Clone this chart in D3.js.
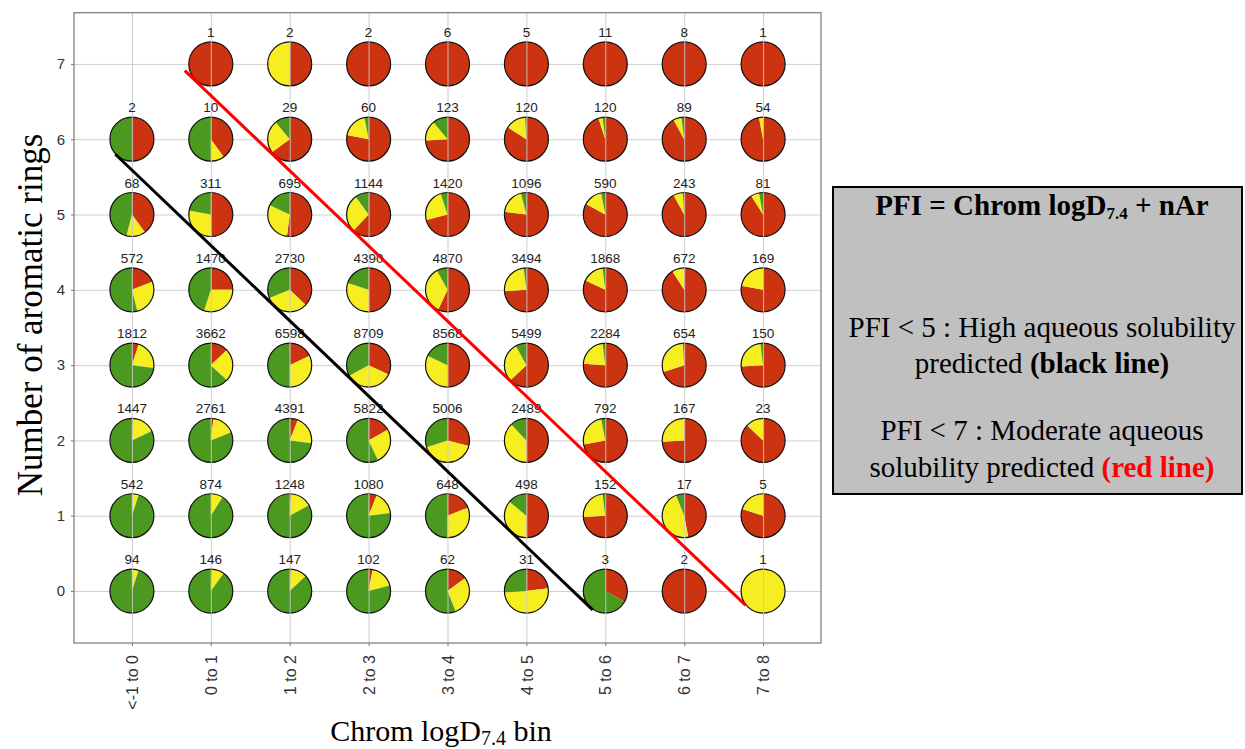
<!DOCTYPE html>
<html>
<head>
<meta charset="utf-8">
<script src="https://cdn.jsdelivr.net/npm/d3@7"></script>
<style>
  body { margin: 0; background: #fff; }
</style>
</head>
<body>
<div id="canvas"></div>
<script>
// Categorias del eje x (bins de Chrom logD7.4)
const bins = ["<-1 to 0", "0 to 1", "1 to 2", "2 to 3", "3 to 4", "4 to 5", "5 to 6", "6 to 7", "7 to 8"];

// Numero de anillos aromaticos (eje y)
const rings = [0, 1, 2, 3, 4, 5, 6, 7];

// Conteos por celda, una fila por numero de anillos (0 .. 7)
const counts = [
    [94, 146, 147, 102, 62, 31, 3, 2, 1],
    [542, 874, 1248, 1080, 648, 498, 152, 17, 5],
    [1447, 2761, 4391, 5822, 5006, 2489, 792, 167, 23],
    [1812, 3662, 6598, 8709, 8568, 5499, 2284, 654, 150],
    [572, 1470, 2730, 4390, 4870, 3494, 1868, 672, 169],
    [68, 311, 695, 1144, 1420, 1096, 590, 243, 81],
    [2, 10, 29, 60, 123, 120, 120, 89, 54],
    [null, 1, 2, 2, 6, 5, 11, 8, 1]
];

// Porcentaje rojo (baja solubilidad) por celda
const redPct = [
    [0, 1, 1, 3, 15, 23, 33, 100, 0],
    [0, 0, 1, 6, 19, 50, 74, 47, 80],
    [1, 2, 6, 17, 29, 50, 72, 74, 87],
    [5, 13, 18, 32, 50, 63, 76, 70, 74],
    [19, 25, 37, 50, 57, 74, 82, 91, 78],
    [40, 50, 52, 62, 71, 77, 83, 92, 91],
    [50, 40, 65, 78, 74, 84, 95, 92, 97],
    [null, 100, 50, 100, 100, 100, 100, 100, 100]
];

// Porcentaje amarillo (solubilidad intermedia) por celda
const yellowPct = [
    [5, 9, 12, 18, 29, 51, 0, 0, 100],
    [5, 9, 16, 17, 31, 36, 24, 47, 20],
    [17, 17, 21, 26, 41, 38, 25, 26, 13],
    [22, 24, 32, 35, 32, 29, 22, 29, 24],
    [27, 30, 32, 30, 35, 24, 16, 9, 22],
    [14, 28, 30, 28, 24, 19, 14, 7, 6],
    [0, 10, 24, 19, 15, 15, 3, 6, 3],
    [null, 0, 50, 0, 0, 0, 0, 0, 0]
];

// Porcentaje verde (alta solubilidad) por celda
const greenPct = [
    [95, 90, 87, 79, 56, 26, 67, 0, 0],
    [95, 91, 83, 77, 50, 14, 2, 6, 0],
    [82, 81, 73, 57, 30, 12, 3, 0, 0],
    [73, 63, 50, 33, 18, 8, 2, 1, 2],
    [54, 45, 31, 20, 8, 2, 2, 0, 0],
    [46, 22, 18, 10, 5, 4, 3, 1, 3],
    [50, 50, 11, 3, 11, 1, 2, 2, 0],
    [null, 0, 0, 0, 0, 0, 0, 0, 0]
];

// Lineas PFI (extremos en unidades de logD y nAr)
const blackLine = [[-0.71, 5.8], [5.34, -0.25]];
const redLine = [[0.17, 6.91], [7.28, -0.19]];

const pieColors = ["#cc3311", "#f7ee21", "#4b9a1f"];

// Caracteristicas del canvas
const width = 1245;
const height = 749;
const frame = {left: 74, right: 821, top: 12.7, bottom: 643};

const svg = d3.select("#canvas").append("svg")
    .attr("width", width)
    .attr("height", height);

// Escalas
const x = d3.scalePoint()
    .domain(bins)
    .range([frame.left, frame.right])
    .padding(0.734);

// Escala continua de logD para las lineas (centro del bin = limite inferior + 0.5)
const xLog = d3.scaleLinear()
    .domain([-1.234, 8.234])
    .range([frame.left, frame.right]);

const y = d3.scaleLinear()
    .domain([-0.69, 7.68])
    .range([frame.bottom, frame.top]);

// Celdas con datos
const cells = [];
rings.forEach((r, i) => {
    bins.forEach((b, j) => {
        if (counts[i][j] == null) return;
        cells.push({
            bin: b, ring: r, n: counts[i][j],
            parts: [redPct[i][j], yellowPct[i][j], greenPct[i][j]]
        });
    });
});

// Rejilla horizontal (debajo de los pies)
svg.append("g")
    .attr("transform", `translate(${frame.left}, 0)`)
    .call(d3.axisLeft(y).tickValues(rings).tickSize(-(frame.right - frame.left)).tickFormat(""))
    .call(g => g.select(".domain").remove())
    .selectAll("line").attr("stroke", "#d0d0d0");

// Pies
const pie = d3.pie().sort(null).value(d => d);
const arc = d3.arc().innerRadius(0).outerRadius(22);

const pies = svg.append("g").selectAll("g").data(cells)
    .enter()
    .append("g")
    .attr("transform", d => `translate(${x(d.bin)}, ${y(d.ring)})`);

pies.selectAll("path").data(d => pie(d.parts))
    .enter()
    .append("path")
    .attr("d", arc)
    .attr("fill", (d, i) => pieColors[i]);

pies.append("circle")
    .attr("r", 22)
    .attr("fill", "none")
    .attr("stroke", "#111")
    .attr("stroke-width", 1.2);

// Rejilla vertical (encima de los pies)
svg.append("g")
    .attr("transform", `translate(0, ${frame.bottom})`)
    .call(d3.axisBottom(x).tickSize(-(frame.bottom - frame.top)).tickFormat(""))
    .call(g => g.select(".domain").remove())
    .selectAll("line").attr("stroke", "#c8c8c8").attr("stroke-opacity", 0.9);

// Marco
svg.append("rect")
    .attr("x", frame.left)
    .attr("y", frame.top)
    .attr("width", frame.right - frame.left)
    .attr("height", frame.bottom - frame.top)
    .attr("fill", "none")
    .attr("stroke", "#777")
    .attr("stroke-width", 1.2);

// Eje y
const yAxis = svg.append("g")
    .attr("transform", `translate(${frame.left}, 0)`)
    .call(d3.axisLeft(y).tickValues(rings).tickSize(3).tickPadding(6));
yAxis.select(".domain").remove();
yAxis.selectAll("line").attr("stroke", "#777");
yAxis.selectAll("text")
    .style("font-family", "'Liberation Sans', Arial, sans-serif")
    .style("font-size", "15px")
    .attr("fill", "#333");

// Eje x con etiquetas rotadas
const xAxis = svg.append("g")
    .attr("transform", `translate(0, ${frame.bottom})`)
    .call(d3.axisBottom(x).tickSize(3));
xAxis.select(".domain").remove();
xAxis.selectAll("line").attr("stroke", "#777");
xAxis.selectAll("text")
    .attr("transform", "rotate(-90)")
    .attr("x", -12)
    .attr("y", 0)
    .attr("dy", "0.35em")
    .style("text-anchor", "end")
    .style("font-family", "'Liberation Sans', Arial, sans-serif")
    .style("font-size", "16px")
    .attr("fill", "#333");

// Conteos encima de cada pie
svg.append("g").selectAll("text").data(cells)
    .enter()
    .append("text")
    .attr("x", d => x(d.bin))
    .attr("y", d => y(d.ring) - 27)
    .attr("text-anchor", "middle")
    .style("font-family", "'Liberation Sans', Arial, sans-serif")
    .style("font-size", "13.5px")
    .attr("fill", "#222")
    .text(d => d.n);

// Lineas PFI = 5 (negra) y PFI = 7 (roja)
const line = d3.line().x(d => xLog(d[0])).y(d => y(d[1]));
svg.append("path").datum(blackLine)
    .attr("d", line)
    .attr("stroke", "#000")
    .attr("stroke-width", 3)
    .attr("fill", "none");
svg.append("path").datum(redLine)
    .attr("d", line)
    .attr("stroke", "#ff0000")
    .attr("stroke-width", 3)
    .attr("fill", "none");

// Titulos de los ejes
const serif = "'Liberation Serif', 'Times New Roman', serif";

svg.append("text")
    .attr("transform", "translate(42, 315) rotate(-90)")
    .attr("text-anchor", "middle")
    .style("font-family", serif)
    .style("font-size", "35px")
    .attr("fill", "#000")
    .text("Number of aromatic rings");

const xTitle = svg.append("text")
    .attr("x", 441)
    .attr("y", 741)
    .attr("text-anchor", "middle")
    .style("font-family", serif)
    .style("font-size", "30px")
    .attr("fill", "#000");
xTitle.append("tspan").text("Chrom logD");
xTitle.append("tspan").attr("dy", 4).style("font-size", "20px").text("7.4");
xTitle.append("tspan").attr("dy", -4).text(" bin");

// Recuadro con la explicacion del PFI
svg.append("rect")
    .attr("x", 833)
    .attr("y", 187)
    .attr("width", 409)
    .attr("height", 307)
    .attr("fill", "#c0c0c0")
    .attr("stroke", "#000")
    .attr("stroke-width", 2);

const boxX = 1042;

const boxTitle = svg.append("text")
    .attr("x", boxX)
    .attr("y", 215)
    .attr("text-anchor", "middle")
    .style("font-family", serif)
    .style("font-size", "29px")
    .style("font-weight", "bold")
    .attr("fill", "#000");
boxTitle.append("tspan").text("PFI = Chrom logD");
boxTitle.append("tspan").attr("dy", 4).style("font-size", "17px").text("7.4");
boxTitle.append("tspan").attr("dy", -4).text(" + nAr");

function boxLine(yPos, parts) {
    const t = svg.append("text")
        .attr("x", boxX)
        .attr("y", yPos)
        .attr("text-anchor", "middle")
        .style("font-family", serif)
        .style("font-size", "29px")
        .attr("fill", "#000");
    parts.forEach(p => {
        t.append("tspan")
            .style("font-weight", p.bold ? "bold" : "normal")
            .attr("fill", p.color || "#000")
            .text(p.text);
    });
}

boxLine(337, [{text: "PFI < 5 : High aqueous solubility"}]);
boxLine(373, [{text: "predicted "}, {text: "(black line)", bold: true}]);
boxLine(440, [{text: "PFI < 7 : Moderate aqueous"}]);
boxLine(477, [{text: "solubility predicted "}, {text: "(red line)", bold: true, color: "#ff0000"}]);
</script>
</body>
</html>
